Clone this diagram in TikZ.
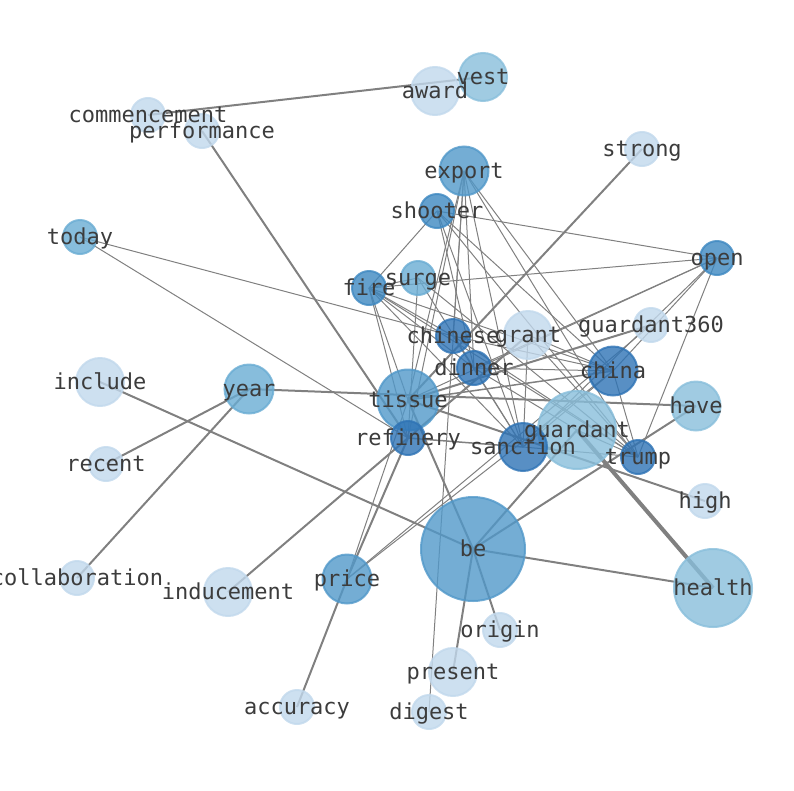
\documentclass[tikz,border=0pt]{standalone}
\usepackage{fontspec}
\setmonofont{DejaVu Sans Mono}
\definecolor{bluepale}{RGB}{193,216,236}
\definecolor{bluelight}{RGB}{136,190,219}
\definecolor{bluemed}{RGB}{105,172,211}
\definecolor{bluedeep}{RGB}{81,152,201}
\definecolor{bluedarker}{RGB}{61,136,193}
\definecolor{bluedark}{RGB}{46,115,181}
\definecolor{labelgray}{RGB}{60,60,60}
\definecolor{linkgray}{RGB}{128,128,128}
\begin{document}
\begin{tikzpicture}[x=1pt, y=-1pt,
    link/.style={draw=linkgray, line width=1pt},
    midlink/.style={draw=linkgray, line width=1.5pt},
    boldlink/.style={draw=linkgray, line width=2pt},
    heavylink/.style={draw=linkgray, line width=4pt},
    word/.style={circle, inner sep=0pt, line width=2pt, fill opacity=0.8, draw opacity=0.8},
    wordlabel/.style={text=labelgray, inner sep=0pt, text height=0.8em, text depth=0.16em,
      yshift=-4pt, font=\ttfamily\fontsize{22}{22}\selectfont}]

	\useasboundingbox (0,0) rectangle (794,790);

	% positions
	\foreach \n/\x/\y in {vest/483/77, award/435/91, commencement/148/115, performance/202/131,
	    export/464/171, strong/642/149, shooter/437/211, today/80/237, open/717/258,
	    surge/418/278, fire/369/288, guardant360/651/325, chinese/453/336, grant/528/335,
	    dinner/474/368, china/613/371, include/100/382, year/249/389, tissue/408/400,
	    have/696/406, guardant/577/430, refinery/408/438, sanction/523/447, trump/638/457,
	    recent/106/464, high/705/501, be/473/549, collaboration/77/578, inducement/228/592,
	    price/347/579, health/713/588, origin/500/630, present/453/672, accuracy/297/707,
	    digest/429/712}
	  \coordinate (\n) at (\x,\y);

	% thin links
	\foreach \a/\b in {export/refinery, export/chinese, export/dinner, export/tissue, export/sanction,
	    export/china, export/trump, export/digest,
	    shooter/fire, shooter/open, shooter/sanction, shooter/trump, shooter/dinner, shooter/china,
	    fire/surge, fire/open, fire/tissue, fire/chinese, fire/dinner, fire/sanction, fire/china,
	    fire/trump, fire/refinery,
	    surge/refinery, surge/sanction, surge/trump,
	    today/chinese, today/refinery,
	    open/tissue, open/china, open/trump, open/sanction, open/dinner,
	    chinese/china, chinese/trump, chinese/sanction,
	    dinner/china, dinner/guardant,
	    grant/china, grant/sanction, grant/trump,
	    price/china, price/guardant360, price/tissue,
	    china/trump, china/sanction, sanction/trump, guardant/trump}
	  \draw [link] (\a) -- (\b);

	\draw [midlink] (refinery) -- (sanction);
	\draw [midlink] (tissue) -- (china);

	% bold links
	\foreach \a/\b in {commencement/vest, performance/refinery, strong/tissue, include/be,
	    year/have, year/recent, year/collaboration, inducement/refinery, price/refinery,
	    accuracy/price, be/health, be/present, be/origin, be/tissue, be/guardant, be/have,
	    tissue/high, guardant360/tissue, refinery/grant}
	  \draw [boldlink] (\a) -- (\b);

	\draw [heavylink] (guardant) -- (health);

	% words
	\foreach \n/\d/\c in {vest/48/bluelight, award/48/bluepale, commencement/34/bluepale,
	    performance/34/bluepale, export/49/bluedeep, strong/34/bluepale, shooter/34/bluedarker,
	    today/34/bluemed, open/34/bluedarker, surge/34/bluemed, fire/34/bluedarker,
	    guardant360/34/bluepale, chinese/34/bluedark, grant/48/bluepale, dinner/34/bluedark,
	    china/49/bluedark, include/48/bluepale, year/49/bluemed, tissue/61/bluedeep,
	    have/49/bluelight, guardant/78/bluelight, refinery/34/bluedark, sanction/48/bluedark,
	    trump/34/bluedark, recent/34/bluepale, high/34/bluepale, be/104/bluedeep,
	    collaboration/34/bluepale, inducement/48/bluepale, price/49/bluedeep,
	    health/78/bluelight, origin/34/bluepale, present/48/bluepale, accuracy/34/bluepale,
	    digest/34/bluepale}
	  \node [word, minimum size=\d pt, fill=\c, draw=\c] at (\n) {};

	\foreach \n in {vest, award, commencement, performance, export, strong, shooter, today, open,
	    surge, fire, guardant360, chinese, grant, dinner, china, include, year, tissue, have,
	    guardant, refinery, sanction, trump, recent, high, be, collaboration, inducement,
	    price, health, origin, present, accuracy, digest}
	  \node [wordlabel] at (\n) {\n};
\end{tikzpicture}
\end{document}
